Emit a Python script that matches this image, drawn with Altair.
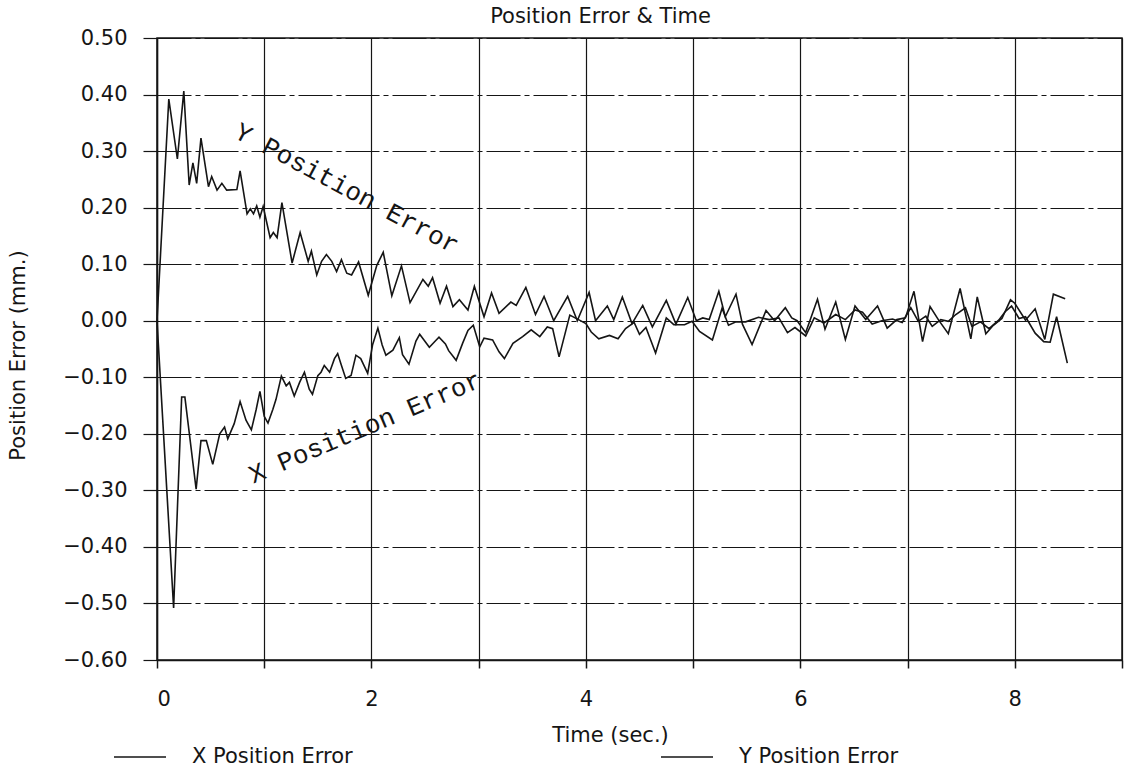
import altair as alt
import pandas as pd

# ---- measured position error (mm) against time (s) ----
y_time = [0, 0.11, 0.19, 0.25, 0.30, 0.335, 0.37, 0.41, 0.48, 0.51, 0.56, 0.605, 0.65, 0.745, 0.775,
          0.84, 0.87, 0.90, 0.93, 0.96, 0.99, 1.055, 1.085, 1.12, 1.165, 1.26, 1.335, 1.41, 1.44, 1.49,
          1.535, 1.58, 1.63, 1.675, 1.72, 1.77, 1.815, 1.88, 1.97, 2.05, 2.11, 2.19, 2.28, 2.36, 2.48,
          2.53, 2.57, 2.64, 2.70, 2.76, 2.82, 2.90, 2.96, 3.05, 3.12, 3.19, 3.30, 3.35, 3.44, 3.53,
          3.61, 3.70, 3.83, 3.92, 4.03, 4.09, 4.20, 4.26, 4.34, 4.43, 4.53, 4.62, 4.75, 4.84, 4.95,
          5.03, 5.09, 5.15, 5.24, 5.30, 5.40, 5.46, 5.55, 5.68, 5.76, 5.86, 5.92, 5.97, 6.05, 6.16,
          6.23, 6.33, 6.42, 6.51, 6.61, 6.72, 6.81, 6.90, 6.98, 7.06, 7.14, 7.21, 7.29, 7.38, 7.49,
          7.59, 7.65, 7.73, 7.80, 7.88, 7.96, 8.00, 8.10, 8.19, 8.28, 8.36, 8.47]
y_err = [0, 0.392, 0.286, 0.406, 0.240, 0.279, 0.243, 0.323, 0.237, 0.255, 0.231, 0.243, 0.231, 0.232, 0.265,
         0.189, 0.198, 0.189, 0.203, 0.183, 0.202, 0.147, 0.156, 0.147, 0.209, 0.102, 0.156, 0.105, 0.123, 0.081,
         0.105, 0.117, 0.105, 0.087, 0.108, 0.084, 0.081, 0.104, 0.045, 0.098, 0.121, 0.044, 0.097, 0.032, 0.073,
         0.061, 0.076, 0.031, 0.061, 0.025, 0.037, 0.019, 0.061, 0.007, 0.049, 0.013, 0.033, 0.027, 0.059, 0.011,
         0.043, 0.000, 0.043, 0.000, 0.050, 0.000, 0.026, 0.002, 0.042, -0.005, 0.027, -0.011, 0.036, -0.006, 0.041,
         0.000, 0.005, 0.002, 0.052, 0.007, 0.047, -0.006, -0.042, 0.018, 0.000, 0.023, 0.005, 0.000, -0.021, 0.038,
         -0.015, 0.033, -0.033, 0.026, 0.002, 0.026, -0.013, 0.002, 0.005, 0.052, -0.037, 0.025, 0.001, -0.023, 0.057,
         -0.032, 0.042, -0.023, -0.008, 0.004, 0.037, 0.031, 0.001, 0.021, -0.033, 0.047, 0.039]

x_time = [0, 0.155, 0.23, 0.26, 0.365, 0.41, 0.46, 0.52, 0.585, 0.63, 0.66, 0.72, 0.775, 0.83, 0.88,
          0.925, 0.96, 1.00, 1.035, 1.08, 1.11, 1.16, 1.205, 1.235, 1.28, 1.33, 1.375, 1.42, 1.45, 1.50,
          1.53, 1.56, 1.61, 1.655, 1.685, 1.715, 1.76, 1.81, 1.855, 1.90, 1.965, 2.01, 2.06, 2.10, 2.135,
          2.20, 2.26, 2.29, 2.35, 2.415, 2.45, 2.54, 2.60, 2.63, 2.69, 2.72, 2.79, 2.85, 2.90, 2.95,
          3.01, 3.05, 3.13, 3.19, 3.24, 3.32, 3.41, 3.49, 3.57, 3.64, 3.69, 3.75, 3.85, 3.94, 4.00,
          4.05, 4.12, 4.22, 4.30, 4.37, 4.45, 4.50, 4.56, 4.65, 4.75, 4.82, 4.92, 4.99, 5.06, 5.18,
          5.27, 5.33, 5.40, 5.49, 5.61, 5.71, 5.80, 5.88, 5.95, 6.05, 6.13, 6.22, 6.33, 6.42, 6.51,
          6.58, 6.67, 6.76, 6.86, 6.95, 7.03, 7.10, 7.17, 7.23, 7.31, 7.38, 7.45, 7.54, 7.60, 7.68,
          7.76, 7.85, 7.91, 7.97, 8.04, 8.10, 8.19, 8.27, 8.33, 8.39, 8.49]
x_err = [0, -0.508, -0.135, -0.135, -0.298, -0.212, -0.212, -0.254, -0.200, -0.188, -0.209, -0.182, -0.143, -0.176, -0.193,
         -0.157, -0.125, -0.169, -0.181, -0.157, -0.139, -0.098, -0.115, -0.109, -0.133, -0.109, -0.091, -0.121, -0.130, -0.097,
         -0.091, -0.079, -0.091, -0.067, -0.058, -0.076, -0.102, -0.097, -0.061, -0.067, -0.093, -0.043, -0.013, -0.043, -0.061,
         -0.052, -0.030, -0.060, -0.077, -0.036, -0.024, -0.047, -0.035, -0.029, -0.041, -0.053, -0.070, -0.040, -0.017, -0.008,
         -0.046, -0.031, -0.034, -0.055, -0.067, -0.040, -0.028, -0.016, -0.028, -0.011, -0.014, -0.064, 0.010, 0.001, -0.005,
         -0.020, -0.032, -0.026, -0.032, -0.014, -0.003, -0.024, -0.012, -0.057, 0.005, -0.007, -0.007, -0.001, -0.019, -0.034,
         0.022, -0.008, -0.002, -0.002, 0.006, 0.002, 0.005, -0.021, -0.012, -0.027, 0.005, -0.004, 0.011, 0.002, 0.019,
         0.015, -0.006, 0.000, 0.003, -0.003, 0.023, -0.001, 0.008, -0.010, 0.002, -0.001, 0.011, 0.023, -0.010, -0.002,
         -0.014, 0.001, 0.016, 0.026, 0.004, 0.007, -0.022, -0.037, -0.038, 0.007, -0.075]

series_names = ["X Position Error", "Y Position Error"]

x_ticks = [0, 1, 2, 3, 4, 5, 6, 7, 8, 9]
y_ticks = [-0.6, -0.5, -0.4, -0.3, -0.2, -0.1, 0.0, 0.1, 0.2, 0.3, 0.4, 0.5]

if len(y_time) != len(y_err) or len(x_time) != len(x_err):
    raise ValueError("time and error lists differ in length")

lines_df = pd.concat([
    pd.DataFrame({"time": x_time, "error": x_err, "series": series_names[0]}),
    pd.DataFrame({"time": y_time, "error": y_err, "series": series_names[1]}),
], ignore_index=True)

# in-plot labels written along each curve
y_note = pd.DataFrame({"time": [1.77], "error": [0.234], "text": ["Y Position Error"]})
x_note = pd.DataFrame({"time": [1.94], "error": [-0.189], "text": ["X Position Error"]})

FONT = "DejaVu Sans"
MONO = "Liberation Mono"
INK = "#151515"
FS = 21

x_enc = alt.X(
    "time:Q",
    scale=alt.Scale(domain=[0, 9], nice=False),
    axis=alt.Axis(
        values=x_ticks, format="d",
        labelExpr="datum.value % 2 === 0 ? datum.label : ''",
        title="Time (sec.)",
        grid=True, gridColor=INK, gridWidth=1.2,
        tickSize=8, tickColor=INK, tickWidth=1.5,
        domainColor=INK, domainWidth=1.5,
        labelFont=FONT, labelFontSize=FS, labelColor=INK, labelPadding=20,
        titleFont=FONT, titleFontSize=FS, titleFontWeight="normal", titleColor=INK,
        titleX=453, titleY=75, titleAlign="center", titleBaseline="middle",
    ),
)
y_enc = alt.Y(
    "error:Q",
    scale=alt.Scale(domain=[-0.6, 0.5], nice=False, zero=False),
    axis=alt.Axis(
        values=y_ticks, format=".2f",
        title="Position Error (mm.)",
        grid=True, gridColor=INK, gridWidth=1.2, gridDash=[34, 4, 5, 4],
        tickSize=14, tickColor=INK, tickWidth=1.2,
        domainColor=INK, domainWidth=1.5,
        labelFont=FONT, labelFontSize=FS, labelColor=INK, labelPadding=16,
        titleFont=FONT, titleFontSize=FS, titleFontWeight="normal", titleColor=INK,
        titleX=-139, titleY=317, titleAngle=270, titleAlign="center", titleBaseline="middle",
    ),
)

lines = alt.Chart(lines_df).mark_line(strokeWidth=1.6).encode(
    x=x_enc,
    y=y_enc,
    color=alt.Color(
        "series:N",
        scale=alt.Scale(domain=series_names, range=[INK, INK]),
        legend=alt.Legend(
            title=None, orient="none", legendX=-44, legendY=692,
            direction="horizontal", symbolType="stroke", symbolSize=2704,
            symbolStrokeWidth=1.5, labelFont=FONT, labelFontSize=FS, labelColor=INK,
            labelOffset=25, columnPadding=305, labelLimit=400,
        ),
    ),
    detail="series:N",
)

y_label = alt.Chart(y_note).mark_text(
    font=MONO, fontSize=26, angle=28, color=INK, align="center", baseline="middle"
).encode(x="time:Q", y="error:Q", text="text:N")

x_label = alt.Chart(x_note).mark_text(
    font=MONO, fontSize=26, angle=337, color=INK, align="center", baseline="middle"
).encode(x="time:Q", y="error:Q", text="text:N")

chart = (
    alt.layer(lines, y_label, x_label)
    .properties(
        width=965, height=622,
        title=alt.Title("Position Error & Time", font=FONT, fontSize=FS, fontWeight="normal",
                        color=INK, anchor="middle", dx=-39, offset=0),
        autosize=alt.AutoSizeParams(type="none"),
        padding={"left": 157, "top": 38, "right": 16, "bottom": 115},
        background="white",
    )
    .configure_view(stroke=INK, strokeWidth=1.5)
)

chart.save("out.html", embed_options={"renderer": "svg", "actions": False})
